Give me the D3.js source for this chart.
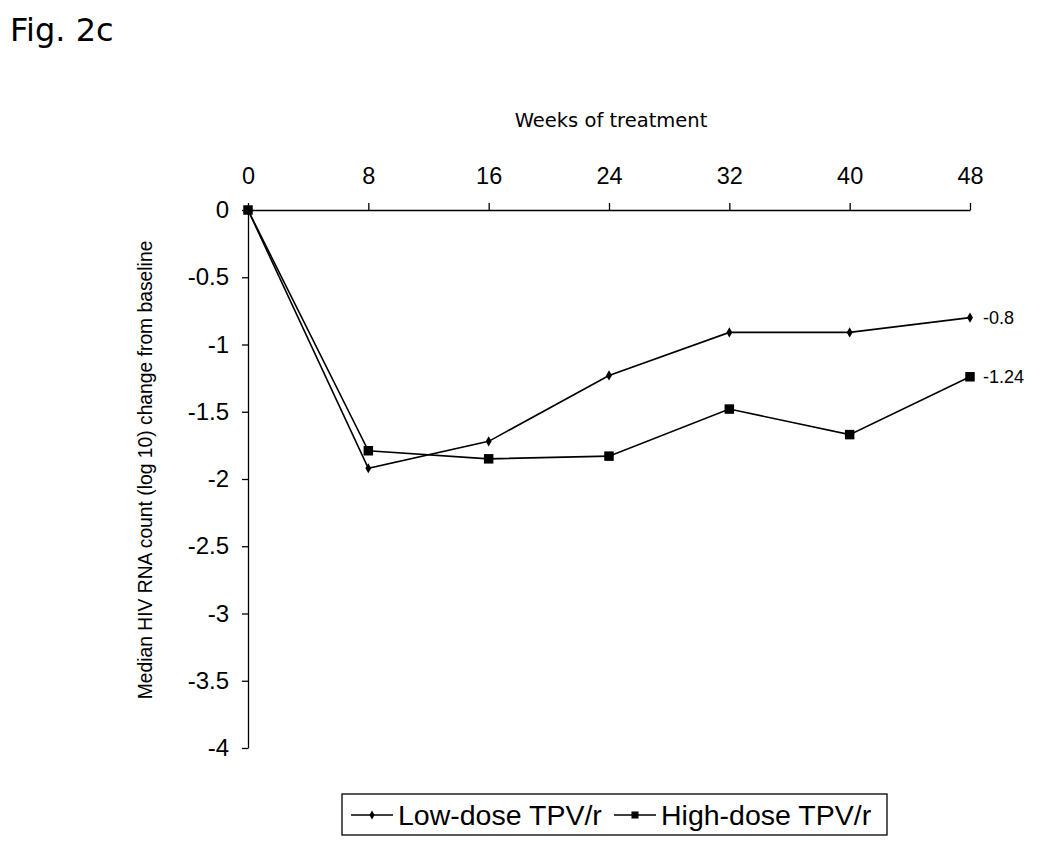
<!DOCTYPE html>
<html><head><meta charset="utf-8">
<script src="https://cdn.jsdelivr.net/npm/d3@7"></script>
<style>body{margin:0;background:#fff}</style>
</head><body>
<svg id="c" width="1050" height="845"></svg>
<script>
const weeks = [0, 8, 16, 24, 32, 40, 48];
const lowDose = [0, -1.92, -1.72, -1.23, -0.91, -0.91, -0.8];
const highDose = [0, -1.79, -1.85, -1.83, -1.48, -1.67, -1.24];
const yTicks = [0, -0.5, -1, -1.5, -2, -2.5, -3, -3.5, -4];
const seriesNames = ["Low-dose TPV/r", "High-dose TPV/r"];
const endLabels = ["-0.8", "-1.24"];

const svg = d3.select("#c");
const x = d3.scaleLinear().domain([0, 48]).range([248, 970]);
const y = d3.scaleLinear().domain([0, -4]).range([210, 748]);

svg.append("text").attr("x", 10).attr("y", 41).attr("font-family", "DejaVu Sans")
  .attr("font-size", 32).text("Fig. 2c");

svg.append("text").attr("x", 611).attr("y", 127).attr("text-anchor", "middle")
  .attr("font-family", "DejaVu Sans").attr("font-size", 19.5).text("Weeks of treatment");

const xAxis = svg.append("g").attr("transform", `translate(0,${y(0)})`)
  .call(d3.axisTop(x).tickValues(weeks).tickSize(7).tickSizeOuter(0).tickPadding(19));
xAxis.selectAll("text").attr("font-family", "Liberation Sans").attr("font-size", 23.5).attr("fill", "#000");
xAxis.select(".domain").attr("stroke", "#000").attr("stroke-width", 1.3);
xAxis.selectAll(".tick line").attr("stroke", "#000").attr("stroke-width", 1.3);

const yAxis = svg.append("g").attr("transform", `translate(${x(0)},0)`)
  .call(d3.axisLeft(y).tickValues(yTicks).tickFormat(d => String(d)).tickSize(6).tickSizeOuter(0).tickPadding(13));
yAxis.selectAll("text").attr("font-family", "Liberation Sans").attr("font-size", 24).attr("fill", "#000");
yAxis.select(".domain").attr("stroke", "#000").attr("stroke-width", 1.3);
yAxis.selectAll(".tick line").attr("stroke", "#000").attr("stroke-width", 1.3);

svg.append("text").attr("transform", `translate(152,470) rotate(-90)`).attr("text-anchor", "middle")
  .attr("font-family", "Liberation Sans").attr("font-size", 19.3).text("Median HIV RNA count (log 10) change from baseline");

const line = d3.line().x((d, i) => x(weeks[i])).y(d => y(d));
const diamond = d3.symbol().type(d3.symbolDiamond).size(30);
const square = d3.symbol().type(d3.symbolSquare).size(90);

function drawSeries(vals, sym) {
  svg.append("path").datum(vals).attr("d", line).attr("fill", "none").attr("stroke", "#000").attr("stroke-width", 1.6);
  svg.append("g").selectAll("path").data(vals).join("path")
    .attr("transform", (d, i) => `translate(${x(weeks[i])},${y(d)})`).attr("d", sym).attr("fill", "#000");
}
drawSeries(lowDose, diamond);
drawSeries(highDose, square);

[lowDose, highDose].forEach((s, k) => {
  svg.append("text").attr("x", x(48) + 13).attr("y", y(s[s.length - 1]) + 6.5)
    .attr("font-family", "Liberation Sans").attr("font-size", 18).text(endLabels[k]);
});

// legend
const lg = svg.append("g");
lg.append("rect").attr("x", 342).attr("y", 794).attr("width", 545).attr("height", 41)
  .attr("fill", "none").attr("stroke", "#000").attr("stroke-width", 1.3);
const legendItems = [{x0: 351, sym: diamond}, {x0: 614, sym: square}];
legendItems.forEach((it, k) => {
  const cy = 815;
  lg.append("line").attr("x1", it.x0).attr("x2", it.x0 + 42).attr("y1", cy).attr("y2", cy).attr("stroke", "#000").attr("stroke-width", 1.6);
  lg.append("path").attr("transform", `translate(${it.x0 + 21},${cy})`).attr("d", k === 0 ? d3.symbol().type(d3.symbolDiamond).size(24) : d3.symbol().type(d3.symbolSquare).size(50)).attr("fill", "#000");
  lg.append("text").attr("x", it.x0 + 47).attr("y", cy + 10).attr("font-family", "Liberation Sans").attr("font-size", 28.5).text(seriesNames[k]);
});
</script>
</body></html>
